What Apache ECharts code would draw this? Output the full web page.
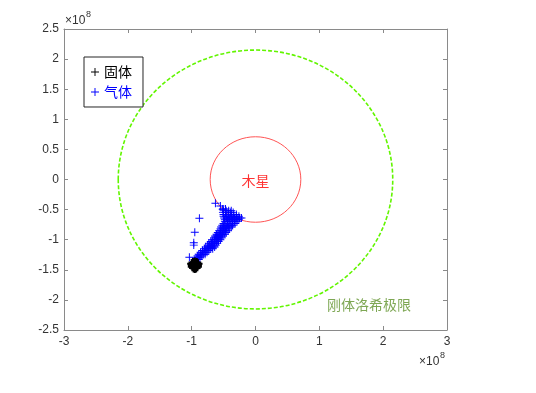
<!DOCTYPE html>
<html>
<head>
<meta charset="utf-8">
<script src="https://cdn.jsdelivr.net/npm/echarts@6/dist/echarts.min.js"></script>
<style>html,body{margin:0;padding:0;background:#fff;}#c{width:536px;height:393px;}</style>
</head>
<body>
<div id="c"></div>
<script>
// Units: 10^8 m
const xTicks = [-3, -2, -1, 0, 1, 2, 3];
const yTicks = [-2.5, -2, -1.5, -1, -0.5, 0, 0.5, 1, 1.5, 2, 2.5];
const seriesNames = ['固体', '气体'];
const circleNames = ['木星', '刚体洛希极限'];
const jupiterCircle = [0, 0, 0.71];     // center x, center y, radius
const rocheCircle = [0, 0, 2.15];
const jupiterLabelPos = [0, -0.02];
const rocheLabelPos = [1.12, -2.085];

const solidPts = [
  [-0.95,-1.42],[-0.97,-1.44],[-0.93,-1.44],[-0.96,-1.40],[-0.94,-1.39],[-0.99,-1.42],
  [-0.91,-1.42],[-0.95,-1.46],[-0.99,-1.45],[-0.91,-1.45],[-0.98,-1.38],[-0.92,-1.38],
  [-0.97,-1.47],[-0.93,-1.47],[-1.00,-1.40],[-0.90,-1.40],[-0.95,-1.37],[-0.95,-1.48]
];

const gasPts = [
  // scattered outliers
  [-0.879,-0.645],[-0.951,-0.877],[-0.967,-1.05],[-0.967,-1.09],[-1.036,-1.29],
  [-0.628,-0.395],[-0.55,-0.44],[-0.513,-0.495],
  // main streak
  [-0.96,-1.36],[-0.93,-1.36],
  [-0.95,-1.33],[-0.92,-1.33],[-0.89,-1.33],
  [-0.93,-1.30],[-0.90,-1.30],[-0.87,-1.30],
  [-0.91,-1.27],[-0.87,-1.27],[-0.84,-1.27],
  [-0.89,-1.24],[-0.85,-1.24],[-0.82,-1.24],[-0.79,-1.24],
  [-0.86,-1.21],[-0.82,-1.21],[-0.79,-1.21],[-0.76,-1.21],
  [-0.83,-1.18],[-0.79,-1.18],[-0.76,-1.18],[-0.73,-1.18],
  [-0.80,-1.15],[-0.76,-1.15],[-0.73,-1.15],[-0.70,-1.15],[-0.67,-1.15],
  [-0.78,-1.12],[-0.74,-1.12],[-0.71,-1.12],[-0.68,-1.12],[-0.64,-1.12],
  [-0.75,-1.09],[-0.72,-1.09],[-0.69,-1.09],[-0.66,-1.09],[-0.62,-1.09],
  [-0.73,-1.06],[-0.69,-1.06],[-0.67,-1.06],[-0.64,-1.06],[-0.60,-1.06],
  [-0.70,-1.03],[-0.67,-1.03],[-0.64,-1.03],[-0.61,-1.03],[-0.58,-1.03],
  [-0.68,-1.00],[-0.64,-1.00],[-0.62,-1.00],[-0.59,-1.00],[-0.55,-1.00],
  [-0.65,-0.97],[-0.62,-0.97],[-0.59,-0.97],[-0.56,-0.97],[-0.53,-0.97],
  [-0.63,-0.94],[-0.60,-0.94],[-0.57,-0.94],[-0.54,-0.94],[-0.51,-0.94],
  [-0.61,-0.91],[-0.57,-0.91],[-0.55,-0.91],[-0.52,-0.91],[-0.48,-0.91],
  [-0.59,-0.88],[-0.55,-0.88],[-0.52,-0.88],[-0.49,-0.88],[-0.46,-0.88],
  [-0.57,-0.85],[-0.53,-0.85],[-0.50,-0.85],[-0.47,-0.85],[-0.43,-0.85],
  [-0.55,-0.82],[-0.51,-0.82],[-0.48,-0.82],[-0.45,-0.82],[-0.41,-0.82],
  [-0.54,-0.79],[-0.50,-0.79],[-0.46,-0.79],[-0.42,-0.79],[-0.38,-0.79],
  [-0.52,-0.76],[-0.48,-0.76],[-0.44,-0.76],[-0.40,-0.76],[-0.36,-0.76],
  [-0.50,-0.73],[-0.46,-0.73],[-0.42,-0.73],[-0.38,-0.73],[-0.35,-0.73],[-0.32,-0.73],
  [-0.48,-0.70],[-0.44,-0.70],[-0.40,-0.70],[-0.36,-0.70],[-0.33,-0.70],[-0.29,-0.70],
  [-0.48,-0.67],[-0.44,-0.67],[-0.40,-0.67],[-0.36,-0.67],[-0.32,-0.67],[-0.29,-0.67],[-0.26,-0.67],
  [-0.49,-0.64],[-0.45,-0.64],[-0.41,-0.64],[-0.37,-0.64],[-0.33,-0.64],[-0.29,-0.64],[-0.25,-0.64],[-0.22,-0.64],
  [-0.50,-0.61],[-0.46,-0.61],[-0.42,-0.61],[-0.38,-0.61],[-0.34,-0.61],[-0.30,-0.61],[-0.26,-0.61],
  [-0.50,-0.58],[-0.46,-0.58],[-0.42,-0.58],[-0.38,-0.58],[-0.34,-0.58],[-0.30,-0.58],
  [-0.51,-0.55],[-0.47,-0.55],[-0.43,-0.55],[-0.39,-0.55],[-0.35,-0.55],
  [-0.50,-0.52],[-0.46,-0.52],[-0.42,-0.52],[-0.38,-0.52],
  [-0.51,-0.49],[-0.47,-0.49]
];

const CROSS = 'path://M4.4,0H5.6V4.4H10V5.6H5.6V10H4.4V5.6H0V4.4H4.4Z';
const BOLDCROSS = 'path://M3.9,0H6.1V3.9H10V6.1H6.1V10H3.9V6.1H0V3.9H3.9Z';
const numFont = '"Liberation Sans", Arial, sans-serif';
const cjkFont = '"Noto Sans CJK SC", sans-serif';
const axisCol = '#8a8a8a';
const labCol = '#333';

function circleRender(color, width, dash) {
  return function (params, api) {
    const c = api.coord([api.value(0), api.value(1)]);
    const s = api.size([api.value(2), api.value(2)]);
    return {
      type: 'ellipse',
      shape: { cx: c[0], cy: c[1], rx: s[0], ry: s[1] },
      style: { fill: 'none', stroke: color, lineWidth: width, lineDash: dash }
    };
  };
}

const baseX = {
  type: 'value', min: xTicks[0], max: xTicks[xTicks.length - 1], interval: 1,
  splitLine: { show: false },
  axisLine: { show: true, onZero: false, lineStyle: { color: axisCol, width: 1 } },
  axisTick: { show: true, inside: true, length: 4, lineStyle: { color: axisCol } }
};
const baseY = {
  type: 'value', min: yTicks[0], max: yTicks[yTicks.length - 1], interval: 0.5,
  splitLine: { show: false },
  axisLine: { show: true, onZero: false, lineStyle: { color: axisCol, width: 1 } },
  axisTick: { show: true, inside: true, length: 4, lineStyle: { color: axisCol } }
};

const chart = echarts.init(document.getElementById('c'), null, { renderer: 'canvas' });
chart.setOption({
  animation: false,
  backgroundColor: '#fff',
  grid: { left: 64, right: 89, top: 29, bottom: 63, containLabel: false },
  xAxis: [
    Object.assign({}, baseX, { position: 'bottom',
      axisLabel: { show: true, color: labCol, fontSize: 12, fontFamily: numFont, margin: 6 } }),
    Object.assign({}, baseX, { position: 'top', axisLabel: { show: false } })
  ],
  yAxis: [
    Object.assign({}, baseY, { position: 'left',
      axisLabel: { show: true, color: labCol, fontSize: 12, fontFamily: numFont, margin: 5 } }),
    Object.assign({}, baseY, { position: 'right', axisLabel: { show: false } })
  ],
  legend: {
    orient: 'vertical', left: 84, top: 57,
    data: [
      { name: seriesNames[0], icon: CROSS, textStyle: { color: '#000' } },
      { name: seriesNames[1], icon: CROSS, textStyle: { color: '#0000ff' } }
    ],
    itemWidth: 8, itemHeight: 8, itemGap: 6,
    padding: [8, 11, 8, 7],
    borderColor: '#262626', borderWidth: 1, borderRadius: 0,
    backgroundColor: '#fff',
    textStyle: { fontSize: 14, fontFamily: cjkFont, padding: [0, 0, 0, 0] }
  },
  graphic: [
    { type: 'text', left: 65, top: 15, style: { text: '×10', fontSize: 12, fontFamily: numFont, fill: labCol } },
    { type: 'text', left: 86, top: 10, style: { text: '8', fontSize: 9, fontFamily: numFont, fill: labCol } },
    { type: 'text', left: 419, top: 356, style: { text: '×10', fontSize: 12, fontFamily: numFont, fill: labCol } },
    { type: 'text', left: 440, top: 351, style: { text: '8', fontSize: 9, fontFamily: numFont, fill: labCol } }
  ],
  series: [
    {
      name: circleNames[1], type: 'custom', renderItem: circleRender('#62f500', 1.6, [4, 2]),
      data: [rocheCircle], silent: true, z: 1
    },
    {
      name: circleNames[0], type: 'custom', renderItem: circleRender('#ff5555', 1, null),
      data: [jupiterCircle], silent: true, z: 1
    },
    {
      name: seriesNames[1], type: 'scatter', data: gasPts, symbol: CROSS, symbolSize: 8,
      itemStyle: { color: '#0000ff', opacity: 1 }, z: 3
    },
    {
      name: seriesNames[0], type: 'scatter', data: solidPts, symbol: BOLDCROSS, symbolSize: 9,
      itemStyle: { color: '#000000', opacity: 1 }, z: 4
    },
    {
      name: 'lbl1', type: 'scatter', data: [jupiterLabelPos], symbolSize: 0, silent: true,
      label: { show: true, position: 'inside', formatter: circleNames[0], color: '#ff0000', fontSize: 14, fontFamily: cjkFont }
    },
    {
      name: 'lbl2', type: 'scatter', data: [rocheLabelPos], symbolSize: 0, silent: true,
      label: { show: true, position: 'right', distance: 0, align: 'left', formatter: circleNames[1], color: '#5e9129', fontSize: 14, fontFamily: cjkFont }
    }
  ]
});
</script>
</body>
</html>
